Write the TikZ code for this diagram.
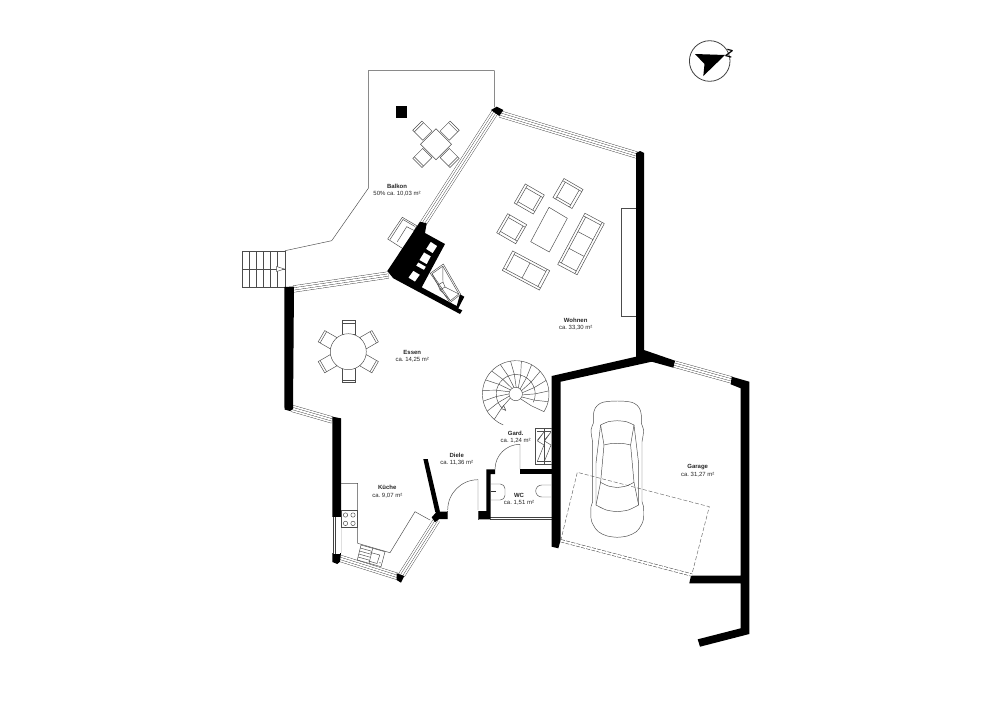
\documentclass[tikz,border=0pt]{standalone}
\usepackage{fontspec}
\setmainfont{Liberation Sans}
\usetikzlibrary{calc}
\tikzstyle{wall} = [fill=black, draw=none]
\tikzstyle{plan} = [draw=black!70, line width=0.35pt]
\tikzstyle{glass} = [draw=black!75, line width=5.2pt, postaction={draw=white, line width=4.6pt}, postaction={draw=black!75, line width=2pt}, postaction={draw=white, line width=1.4pt}]
\tikzstyle{roomlabel} = [align=center, inner sep=0pt, font=\fontsize{4.5}{5.3}\selectfont\frenchspacing, text=black!85]
\tikzset{
  seat/.pic={
    \draw[plan, fill=white] (-6.5,-7) rectangle (6.5,7);
    \draw[plan] (-6.5,-4.8) -- (6.5,-4.8);
  },
  pics/couch/.style 2 args={code={
    \draw[plan, fill=white] (-#1,-11) rectangle (#1,11);
    \draw[plan] (-#1,-8.5) -- (#1,-8.5);
    \draw[plan] ({-#1+3},-8.5) -- ({-#1+3},11);
    \draw[plan] ({#1-3},-8.5) -- ({#1-3},11);
    \draw[plan] ({-#1+3},8.5) -- ({#1-3},8.5);
    \foreach \k in {#2} \draw[plan] (\k,-8.5) -- (\k,8.5);
  }}
}
\begin{document}
\begin{tikzpicture}[x=0.75pt, y=-0.75pt]
\useasboundingbox (0,0) rectangle (1000,707);

% balcony
\draw[plan] (285,250.7) -- (331.7,240.7) -- (368.3,188.3) -- (368.3,70.7) -- (494.3,70.7) -- (494.3,107);
\draw[plan] (242.7,251) rectangle (285,287.3);
\foreach \x in {249.6,256.6,263.6,270.7,277.7} \draw[plan] (\x,251) -- (\x,287.3);
\draw[plan] (242.7,269) -- (285,269);
\draw[plan, fill=white] (276.7,266.5) -- (284.3,269) -- (276.7,271.5) -- cycle;
\fill[wall] (395.7,106.3) rectangle (407,117.7);
\foreach \a in {45,135,225,315} \pic[rotate=\a, yshift=14.5pt] at (436,144.3) {seat};
\draw[plan, fill=white] (436,128.8) -- (451.5,144.3) -- (436,159.8) -- (420.5,144.3) -- cycle;

% armchair behind the chimney
\draw[plan, fill=white] (387.7,239) -- (402.3,217.3) -- (416.7,225.7) -- (405,250) -- cycle;
\draw[plan] (390,239.5) -- (403,219.5) -- (415,226.5);
\draw[plan] (397.3,241.7) -- (406.7,226.7) -- (416,231.5);

% windows
\draw[glass] (495,112) -- (423.3,223.3);
\draw[glass] (293.3,289) -- (388.3,275);
\draw[glass] (500,114) -- (636.7,155);
\draw[glass] (291.7,408.3) -- (332.3,420);
\draw[glass] (340,558.3) -- (398.3,576.7);
\draw[glass] (401.7,575) -- (436.7,520);
\draw[glass] (490,516.3) -- (552,516.3);
\draw[glass] (674,364) -- (731.7,380);

% walls
\fill[wall] (491,110) -- (496.7,106.7) -- (503.3,110) -- (499.3,116) -- cycle;
\fill[wall] (636,155) -- (636,153) -- (640,151) -- (644,153) -- (644,350) -- (675,360.7) -- (673.3,367.7) -- (651.7,361.7) -- (560.7,381.7) -- (560.7,540) -- (558.3,548.3) -- (551.7,546.7) -- (551.7,376) -- (636,356.7) -- cycle;
\fill[wall] (731.7,376.7) -- (749.3,381.7) -- (749.3,634) -- (700,646.7) -- (697.7,639.3) -- (740.7,628.3) -- (740.7,583.3) -- (689.3,583.3) -- (691,575.7) -- (740.7,575.7) -- (740.7,388.3) -- (730.7,384.3) -- cycle;
\fill[wall] (284.3,287) -- (294,286.5) -- (293,409) -- (290,411) -- (284.5,409.5) -- cycle;
\fill[wall] (332.3,416.7) -- (341,418.3) -- (341,553) -- (340,561.7) -- (337.3,564) -- (332.3,562) -- cycle;
\fill[white] (332.3,517.3) rectangle (341,553);
\draw[glass] (336.7,517) -- (336.7,553.5);
\fill[wall] (396.7,573.3) -- (404.3,576) -- (401,582.7) -- (396.7,580) -- cycle;
\fill[wall] (431.7,517.3) -- (436.7,511.7) -- (447.7,511.7) -- (447.7,519) -- (439.3,519) -- (435,522.3) -- cycle;
\fill[wall] (423.3,459) -- (427.7,459) -- (440,511.7) -- (435.3,512.3) -- cycle;
\fill[wall] (486.3,469.3) -- (495,469.3) -- (495,474) -- (490.7,474) -- (490.7,519.3) -- (479,519.3) -- (479,511) -- (486.3,511) -- cycle;
\fill[wall] (520,469.3) rectangle (551.7,474);

% chimney
\fill[wall, even odd rule] (420,221.7) -- (426.7,223.3) -- (425,233) -- (445,244) -- (421.7,287.3) -- (456.7,306) -- (460,294.3) -- (464.3,296.7) -- (458.3,308.5) -- (462.3,310.3) -- (460,314) -- (393.3,278.3) -- (387.3,271) -- cycle
  (430.7,241.7) -- (437.3,246) -- (432.7,253.3) -- (426,249) -- cycle
  (424,252.3) -- (431,256.3) -- (426.7,264.3) -- (419.3,260) -- cycle
  (418.3,262.3) -- (426,266.7) -- (424,270) -- (416,265.7) -- cycle
  (413.3,270.7) -- (420,274.7) -- (415,281.7) -- (408.3,277.7) -- cycle;
\draw[plan] (430.3,273.3) -- (443.3,264) -- (460.7,294.3) -- (450,302.7) -- cycle;
\draw[plan] (432,273.8) -- (442.8,266.2) -- (458.8,294) -- (450.3,300.7) -- cycle;
\draw[plan] (438,285) -- (443,282) -- (445,287) -- (440,290) -- cycle;
\draw[plan] (432,273.8) -- (438,285) (442.8,266.2) -- (443,282) (458.8,294) -- (445,287) (450.3,300.7) -- (440,290);

% living room
\draw[plan] (549,207.3) -- (567.3,218.3) -- (549.3,252) -- (530.7,241.7) -- cycle;
\pic[rotate=60] at (529.3,199) {couch={11}{}};
\pic[rotate=-30] at (568,193.5) {couch={11}{}};
\pic[rotate=60] at (511.7,228.7) {couch={11}{}};
\pic[rotate=-118] at (581,244) {couch={29}{-9.5,9.5}};
\pic[rotate=152] at (526,270.5) {couch={21}{0}};
\draw[plan] (636,208.3) -- (621.7,208.3) -- (621.7,316.7) -- (636,316.7);

% dining table
\foreach \a in {0,60,...,300} \pic[rotate=\a, yshift=18pt] at (348.3,351.7) {seat};
\draw[plan, fill=white] (348.3,351.7) circle[radius=18];

% kitchen
\draw[plan] (341,483.3) -- (357.7,483.3) -- (357.7,543.3) -- (390,552.7) -- (415,511.7) -- (430,520);
\draw[plan] (341,510.7) rectangle (357.7,527.7);
\foreach \x in {345.5,353} \foreach \y in {515,523.4} \draw[plan] (\x,\y) circle[radius=2.2];
\draw[plan] (361,545) -- (385,551.7) -- (381,566.7) -- (357.3,560) -- cycle;
\draw[plan] (372.7,548.3) -- (369,563.3);
\draw[plan] (370.5,552.5) -- (379.8,555) -- (377,563.5) -- (368.5,561);
\foreach \t in {0.2,0.4,0.6,0.8} \draw[plan] ($(361,545)!\t!(357.3,560)$) -- ($(372.7,548.3)!\t!(369,563.3)$);
\fill[black!70] (380,562.7) circle[radius=0.7];

% stairs
\draw[plan] (515.7,394) circle[radius=6.7];
\draw[plan] ($(515.7,394)+(32:33.3)$) arc[start angle=32, end angle=-248, radius=33.3];
\draw[plan] ($(515.7,394)+(25:19.5)$) arc[start angle=25, end angle=-240, radius=19.5];
\foreach \a in {32,13.3,...,-248} \draw[plan] ($(515.7,394)+(\a+13:6.7)$) -- ($(515.7,394)+(\a+5:19.5)$) -- ($(515.7,394)+(\a:33.3)$);
\draw[plan, fill=white] (503.5,405.5) -- (505.5,409.5) -- (501.5,409) -- cycle;

% closet
\draw[plan] (551.7,428.3) -- (535.7,428.3) -- (535.7,464) -- (551.7,464);
\draw[plan] (537,431) -- (551,431) (537,461.5) -- (551,461.5);
\draw[plan] (544,428.3) -- (544,464);
\foreach \x in {537.5,544.5} \draw[plan] (\x,461) -- (\x+6.5,445) -- (\x,441) -- (\x+6.5,432) -- (\x,440);

% doors
\draw[plan] (495,469.3) arc[start angle=180, end angle=270, radius=25] -- (520,469.3);
\draw[plan] (447.7,510) arc[start angle=180, end angle=270, radius=30.3] -- (478,510);
\draw[plan] (447.7,511) -- (447.7,519.3) (478,511) -- (478,519.3);
\draw[plan] (478,519.3) -- (479,519.3);

% WC
\draw[plan, rounded corners=3.5pt] (491,484) -- (505,484) -- (505,500) -- (491,500);
\fill[black!80] (491,490.5) rectangle (496,491.5);
\draw[plan, rounded corners=4.5pt] (551,485) -- (535.7,485) -- (535.7,497) -- (551,497);

% garage door
\draw[plan, dash pattern=on 3pt off 1.5pt, draw=black!60] (560.7,540.7) -- (577.3,472.3) -- (709.3,506.7) -- (691.7,575);
\draw[draw=black!70, dash pattern=on 3pt off 1pt, line width=2.2pt, postaction={draw=white, solid, line width=1.4pt}] (560.7,540.7) -- (691.7,575);

% car
\foreach \s in {1,-1} {\begin{scope}[shift={(617.3,0)}, xscale=\s]
  \draw[plan] plot[smooth, tension=0.6] coordinates {(0,401) (10,401.5) (17,403.3) (22,408) (24,415) (24,423.3) (26.3,430) (24.7,441.7)} -- (24.7,501.7) -- (26.3,506.7) plot[smooth, tension=0.6] coordinates {(26.3,506.7) (26.3,518.3) (24,525) (19,531.7) (10,536) (0,537.3)};
  \draw[plan] plot[smooth] coordinates {(0,420.7) (9,421.7) (16.7,425)};
  \draw[plan] (16.7,425) -- (13.3,445) -- (16.7,482.3) -- (21.3,505);
  \draw[plan] (16.7,425) -- (21.3,463) -- (21.3,505);
  \draw[plan] plot[smooth] coordinates {(0,443.3) (7,443.7) (13.3,445)};
  \draw[plan] plot[smooth] coordinates {(0,487.5) (9,486) (16.7,482.3)};
  \draw[plan] plot[smooth] coordinates {(0,511.7) (11,510) (21.3,505)};
\end{scope}}

% north arrow
\draw[draw=black!75, line width=0.6pt] (709.7,61) circle[radius=20.3];
\fill[black] (695,54) -- (725,55) -- (703.3,76) -- (704.5,64) -- cycle;
\node (north) [inner sep=0pt, rotate=-15, font=\fontsize{8.5}{8.5}\selectfont\bfseries] at (729.3,53.5) {Z};

% room labels
\node (balkon) [roomlabel] at (397,190) {\textbf{Balkon}\\50\% ca. 10,03 m²};
\node (wohnen) [roomlabel] at (575.7,323.8) {\textbf{Wohnen}\\ca. 33,30 m²};
\node (essen) [roomlabel] at (412.3,356.2) {\textbf{Essen}\\ca. 14,25 m²};
\node (kueche) [roomlabel] at (387.3,491.7) {\textbf{Küche}\\ca. 9,07 m²};
\node (diele) [roomlabel] at (456.7,459.5) {\textbf{Diele}\\ca. 11,36 m²};
\node (gard) [roomlabel] at (515.7,437.5) {\textbf{Gard.}\\ca. 1,24 m²};
\node (wc) [roomlabel] at (519,499.2) {\textbf{WC}\\ca. 1,51 m²};
\node (garage) [roomlabel] at (697.7,470.8) {\textbf{Garage}\\ca. 31,27 m²};

\end{tikzpicture}
\end{document}
